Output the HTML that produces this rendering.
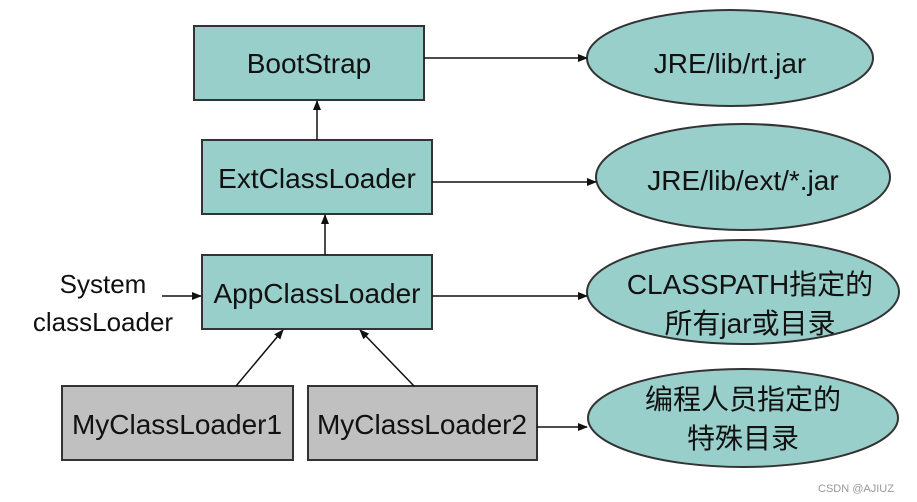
<!DOCTYPE html>
<html><head><style>body{margin:0;background:#fff}svg{display:block}</style></head><body>
<svg width="917" height="502" xmlns="http://www.w3.org/2000/svg" font-family="Liberation Sans, Noto Sans CJK SC, sans-serif" fill="#111">
<defs><marker id="a" markerWidth="10" markerHeight="8" refX="9" refY="4" orient="auto" markerUnits="userSpaceOnUse"><path d="M0,0 L10,4 L0,8 z" fill="#111"/></marker></defs>
<g stroke="#333" stroke-width="2">
<rect x="194" y="26" width="230" height="74" fill="#99cfcb"/>
<rect x="202" y="140" width="230" height="74" fill="#99cfcb"/>
<rect x="202" y="255" width="230" height="74" fill="#99cfcb"/>
<rect x="62" y="386" width="231" height="74" fill="#c0c0c0"/>
<rect x="308" y="386" width="229" height="74" fill="#c0c0c0"/>
<ellipse cx="730" cy="58" rx="143" ry="48" fill="#99cfcb"/>
<ellipse cx="743" cy="177" rx="147" ry="53" fill="#99cfcb"/>
<ellipse cx="743" cy="292" rx="156" ry="52" fill="#99cfcb"/>
<ellipse cx="743" cy="418" rx="155" ry="49" fill="#99cfcb"/>
</g>
<g stroke="#111" stroke-width="1.5" marker-end="url(#a)">
<line x1="424" y1="58" x2="587" y2="58"/>
<line x1="432" y1="182" x2="596" y2="182"/>
<line x1="432" y1="296" x2="587" y2="296"/>
<line x1="537" y1="427" x2="587" y2="427"/>
<line x1="317" y1="140" x2="317" y2="101"/>
<line x1="325" y1="255" x2="325" y2="215"/>
<line x1="236" y1="386" x2="283" y2="330"/>
<line x1="414" y1="386" x2="360" y2="330"/>
<line x1="162" y1="296" x2="201" y2="296"/>
</g>
<g font-size="28" text-anchor="middle">
<text x="309" y="73">BootStrap</text>
<text x="317" y="188">ExtClassLoader</text>
<text x="317" y="303">AppClassLoader</text>
<text x="177" y="434">MyClassLoader1</text>
<text x="422" y="434">MyClassLoader2</text>
<text x="730" y="73">JRE/lib/rt.jar</text>
<text x="743" y="190">JRE/lib/ext/*.jar</text>
<text x="750" y="294">CLASSPATH指定的</text>
<text x="750" y="333">所有jar或目录</text>
<text x="743" y="409">编程人员指定的</text>
<text x="743" y="448">特殊目录</text>
</g>
<g font-size="26" text-anchor="middle">
<text x="103" y="293">System</text>
<text x="103" y="331">classLoader</text>
</g>
<text x="856" y="492" font-size="11" fill="#999" text-anchor="middle">CSDN @AJIUZ</text>
</svg>
</body></html>
